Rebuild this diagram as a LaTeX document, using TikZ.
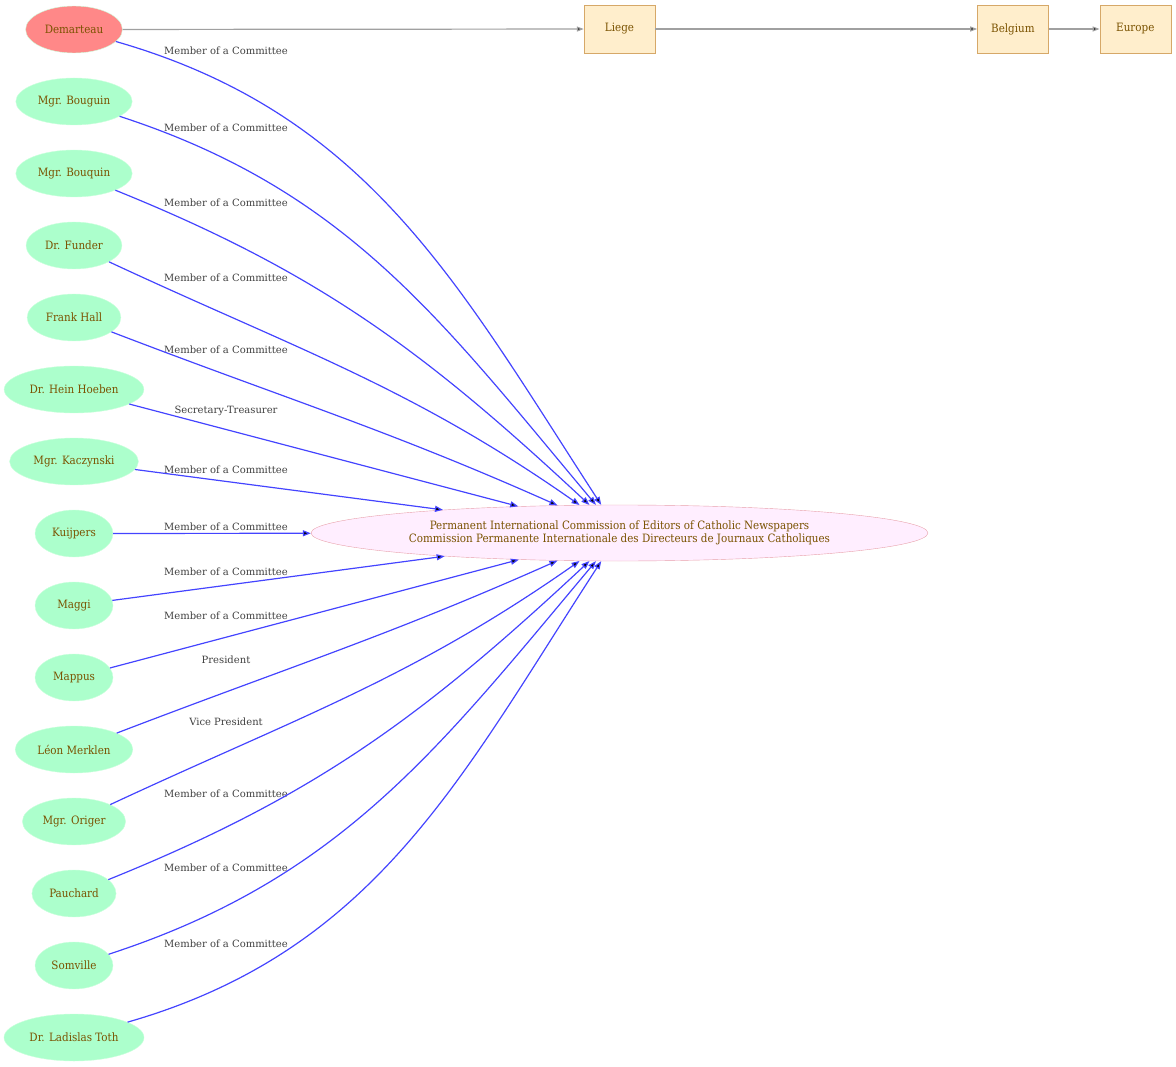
\documentclass[tikz,border=0pt]{standalone}
\usepackage{fontspec}
\setmainfont{DejaVu Serif}
\newfontfamily\condfont{DejaVu Serif Condensed}
\usetikzlibrary{arrows.meta,positioning,shapes.geometric}

\definecolor{mint}{RGB}{172,255,204}
\definecolor{mintline}{RGB}{204,255,221}
\definecolor{salmon}{RGB}{255,136,136}
\definecolor{pinkfill}{RGB}{255,238,255}
\definecolor{pinkline}{RGB}{232,160,170}
\definecolor{placefill}{RGB}{255,238,204}
\definecolor{placeline}{RGB}{214,168,104}
\definecolor{nodetext}{RGB}{122,82,0}
\definecolor{rolecol}{RGB}{68,68,255}
\definecolor{placecol}{RGB}{160,160,160}

\begin{document}
\begin{tikzpicture}[x=1pt,y=1pt,>={Triangle[length=8pt,width=6pt]}]
        \tikzset{person/.style= {draw=mintline, fill=mint, ellipse, inner xsep=5pt, minimum width=78pt, minimum height=47pt,
                 text=nodetext, font=\condfont\fontsize{11.5}{13}\selectfont},
        lead/.style= {person, fill=salmon},
        org/.style= {draw=pinkline, fill=pinkfill, ellipse, align=center, minimum width=617pt, minimum height=56pt,
                 text=nodetext, font=\condfont\fontsize{11.5}{13}\selectfont},
        place/.style= {draw=placeline, fill=placefill, rectangle, minimum width=71pt, minimum height=48pt,
                 text=nodetext, font=\condfont\fontsize{11.5}{13}\selectfont},
        role/.style={font=\fontsize{10}{12}\selectfont, text=black!75},
        member/.style={draw=rolecol, line width=1.2pt},
        located/.style={draw=placecol, line width=1.2pt, >={Triangle[length=7pt,width=5pt]}},
        }
        \useasboundingbox (0,0) rectangle (1176,-1067);

        \node [lead] (demarteau) at (74,-29.5) {Demarteau};
        \node [person, below=24.6pt of demarteau] (bouguin) {Mgr. Bouguin};
        \node [person, below=24.6pt of bouguin] (bouquin) {Mgr. Bouquin};
        \node [person, below=24.6pt of bouquin] (funder) {Dr. Funder};
        \node [person, below=24.6pt of funder] (hall) {Frank Hall};
        \node [person, below=24.6pt of hall] (hoeben) {Dr. Hein Hoeben};
        \node [person, below=24.6pt of hoeben] (kaczynski) {Mgr. Kaczynski};
        \node [person, below=24.6pt of kaczynski] (kuijpers) {Kuijpers};
        \node [person, below=24.6pt of kuijpers] (maggi) {Maggi};
        \node [person, below=24.6pt of maggi] (mappus) {Mappus};
        \node [person, below=24.6pt of mappus] (merklen) {Léon Merklen};
        \node [person, below=24.6pt of merklen] (origer) {Mgr. Origer};
        \node [person, below=24.6pt of origer] (pauchard) {Pauchard};
        \node [person, below=24.6pt of pauchard] (somville) {Somville};
        \node [person, below=24.6pt of somville] (toth) {Dr. Ladislas Toth};

        \node [org] (commission) at (619.5,-533) {Permanent International Commission of Editors of Catholic Newspapers\\Commission Permanente Internationale des Directeurs de Journaux Catholiques};

        \node [place] (liege) at (619.5,-29) {Liege};
        \node [place, right=322pt of liege] (belgium) {Belgium};
        \node [place, right=51pt of belgium] (europe) {Europe};

%%% role labels
        \node [role] (r_demarteau) at (226,-51) {Member of a Committee};
        \node [role] (r_bouguin) at (226,-128) {Member of a Committee};
        \node [role] (r_bouquin) at (226,-203) {Member of a Committee};
        \node [role] (r_funder) at (226,-278) {Member of a Committee};
        \node [role] (r_hall) at (226,-350) {Member of a Committee};
        \node [role] (r_hoeben) at (226,-411) {Secretary-Treasurer};
        \node [role] (r_kaczynski) at (226,-470) {Member of a Committee};
        \node [role] (r_kuijpers) at (226,-527) {Member of a Committee};
        \node [role] (r_maggi) at (226,-572) {Member of a Committee};
        \node [role] (r_mappus) at (226,-616) {Member of a Committee};
        \node [role] (r_merklen) at (226,-660) {President};
        \node [role] (r_origer) at (226,-722) {Vice President};
        \node [role] (r_pauchard) at (226,-794) {Member of a Committee};
        \node [role] (r_somville) at (226,-868) {Member of a Committee};
        \node [role] (r_toth) at (226,-944) {Member of a Committee};

%%% paths
        \path[member,->] (demarteau) edge[out=-16,in=123] (commission)
                    (bouguin) edge[out=-18,in=130] (commission)
                    (bouquin) edge[out=-22,in=137] (commission)
                    (funder) edge[out=-25,in=145] (commission)
                    (hall) edge[out=-21,in=156] (commission)
                    (hoeben) edge (commission)
                    (kaczynski) edge (commission)
                    (kuijpers) edge (commission)
                    (maggi) edge (commission)
                    (mappus) edge (commission)
                    (merklen) edge[out=21,in=-156] (commission)
                    (origer) edge[out=25,in=-145] (commission)
                    (pauchard) edge[out=22,in=-137] (commission)
                    (somville) edge[out=18,in=-130] (commission)
                    (toth) edge[out=16,in=-123] (commission)
                    ;
        \path[located,->] (demarteau) edge (liege)
                    (liege) edge (belgium)
                    (belgium) edge (europe)
                    ;
\end{tikzpicture}
\end{document}
